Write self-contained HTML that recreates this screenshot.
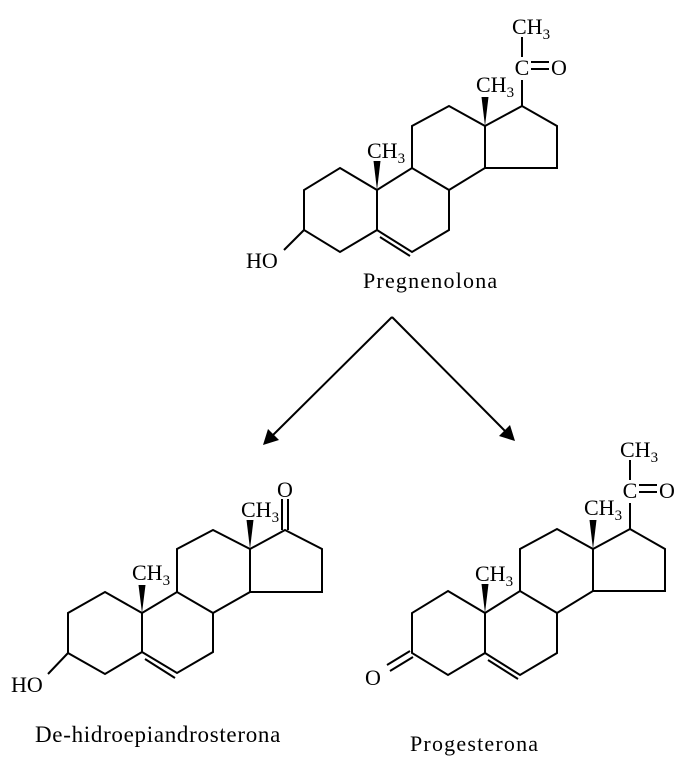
<!DOCTYPE html>
<html><head><meta charset="utf-8"><style>
html,body{margin:0;padding:0;background:#fff;}
svg{display:block;}
text{font-family:"Liberation Serif",serif;fill:#000;}
.s{fill:none;stroke:#000;stroke-width:2;stroke-linejoin:miter;}
</style></head><body>
<svg width="695" height="771" viewBox="0 0 695 771" xmlns="http://www.w3.org/2000/svg">
<defs>
<g id="sk">
<path class="s" d="M340,168 L377,190 L377,230 L340,252 L304,230 L304,190 Z"/>
<path class="s" d="M377,190 L412,168 L449,190 L449,230 L412,252 L377,230"/>
<path class="s" d="M380,237 L410,256"/>
<path class="s" d="M412,168 L412,126 L449,106 L485,126 L485,168 L449,190"/>
<path class="s" d="M485,126 L522,106 L557,126 L557,168 L485,168"/>
<polygon points="485,126 481.5,97 488.5,97" fill="#000"/>
<polygon points="377,190 373.5,161 380.5,161" fill="#000"/>
<path class="s" d="M522,106 L522,80 M522,37 L522,57 M531,62 L549,62 M531,69 L549,69"/>
<text x="522" y="75" font-size="22" text-anchor="middle">C</text>
<text x="551" y="75" font-size="22">O</text>
<text x="512" y="34" font-size="22">CH<tspan font-size="15" dy="5">3</tspan></text>
<text x="476" y="92" font-size="22">CH<tspan font-size="15" dy="5">3</tspan></text>
<text x="367" y="158" font-size="22">CH<tspan font-size="15" dy="5">3</tspan></text>
</g>
</defs>
<use href="#sk"/>
<path class="s" d="M304,230 L284,250"/>
<text x="246" y="268" font-size="22">HO</text>
<text x="363" y="288" font-size="22" letter-spacing="1.2">Pregnenolona</text>

<path class="s" stroke-width="1.6" d="M392,317 L270,438 M392,317 L508,434"/>
<polygon points="263,445 268,429 279,440" fill="#000"/>
<polygon points="515,441 499,436 510,425" fill="#000"/>

<g transform="translate(108,423)"><use href="#sk"/></g>
<path class="s" d="M410,651 L387,665 M413,657 L390,671"/>
<text x="365" y="685" font-size="22">O</text>
<text x="410" y="751" font-size="22" letter-spacing="1.2">Progesterona</text>

<path class="s" d="M105,592 L142,613 L142,652 L105,674 L68,653 L68,613 Z"/>
<path class="s" d="M142,613 L177,592 L213,613 L213,652 L177,673 L142,652"/>
<path class="s" d="M145,659 L175,678"/>
<path class="s" d="M177,592 L177,549 L213,530 L250,549 L250,592 L213,613"/>
<path class="s" d="M250,549 L285,530 L322,549 L322,592 L250,592"/>
<path class="s" d="M282,530 L282,499 M288,530 L288,499"/>
<polygon points="250,549 246.5,520 253.5,520" fill="#000"/>
<polygon points="142,613 138.5,585 145.5,585" fill="#000"/>
<path class="s" d="M68,653 L48,674"/>
<text x="11" y="692" font-size="22">HO</text>
<text x="277" y="497" font-size="22">O</text>
<text x="241" y="517" font-size="22">CH<tspan font-size="15" dy="5">3</tspan></text>
<text x="132" y="580" font-size="22">CH<tspan font-size="15" dy="5">3</tspan></text>
<text x="35" y="742" font-size="23" letter-spacing="0.7">De-hidroepiandrosterona</text>
</svg>
</body></html>
